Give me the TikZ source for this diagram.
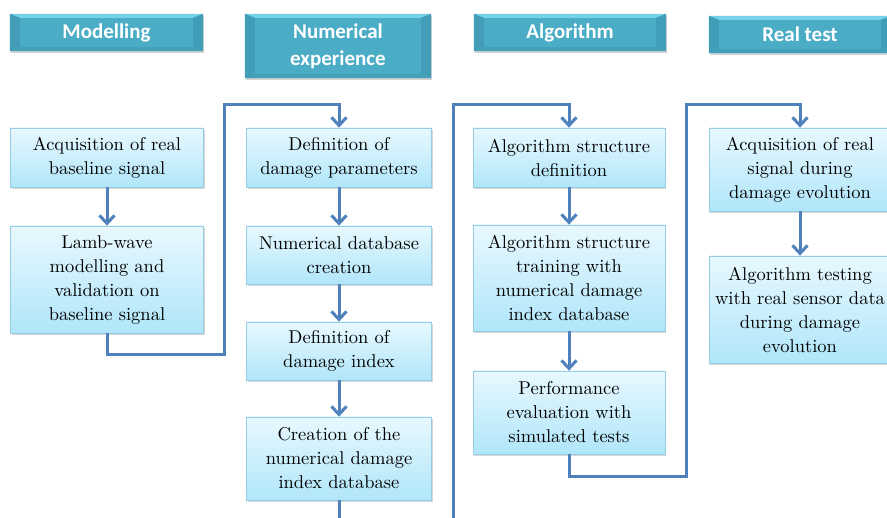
\documentclass[tikz,border=0pt]{standalone}
\usepackage{fontspec}
\newfontfamily\headfont{Carlito}
\newfontfamily\boxfont{lmroman10-regular.otf}
\usepackage{tikz}
\usetikzlibrary{arrows.meta, shadows}
\definecolor{aqua}{RGB}{75, 172, 198}
\definecolor{aqualight}{RGB}{118, 210, 232}
\definecolor{aquadark}{RGB}{66, 158, 184}
\definecolor{aquabottom}{RGB}{68, 160, 186}
\definecolor{boxtop}{RGB}{232, 248, 254}
\definecolor{boxbot}{RGB}{176, 230, 250}
\definecolor{boxline}{RGB}{150, 205, 228}
\definecolor{flow}{RGB}{79, 129, 189}

\begin{document}
\begin{tikzpicture}[
   x=1pt, y=-1pt,
   header/.style={rectangle, fill=aqua, inner sep=0, minimum height=37,
                  drop shadow={opacity=0.35, shadow xshift=1pt, shadow yshift=-2pt}},
   headtext/.style={text=white, align=center,
                    font=\headfont\bfseries\fontsize{21}{27}\selectfont},
   stage/.style={rectangle, draw=boxline, line width=0.8, top color=boxtop,
                 bottom color=boxbot, text=black, align=center,
                 font=\boxfont\fontsize{18.5}{24}\selectfont, inner sep=0,
                 drop shadow={opacity=0.3, shadow xshift=1pt, shadow yshift=-2pt}},
   link/.style={-{Straight Barb[length=8pt, width=15pt]}, color=flow,
                line width=3, line join=miter}
  ]

  \clip (0, 0) rectangle (887, 518);
  \fill[white] (0, 0) rectangle (887, 518);

  % Column headers
  \node (H1) at (106.5, 32.5) [header, minimum width=193] {};
  \node (H2) at (338, 46) [header, minimum width=186, minimum height=64] {};
  \node (H3) at (570, 32.5) [header, minimum width=192] {};
  \node (H4) at (800, 34.5) [header, minimum width=182] {};

  % Bevels
  \foreach \h in {H1, H2, H3, H4} {
    \fill[aqualight] (\h.north west) -- (\h.north east)
      -- ([shift={(-10, 4)}]\h.north east) -- ([shift={(10, 4)}]\h.north west) -- cycle;
    \fill[aquadark] (\h.north west) -- ([shift={(10, 4)}]\h.north west)
      -- ([shift={(10, -4)}]\h.south west) -- (\h.south west) -- cycle;
    \fill[aquadark] (\h.north east) -- ([shift={(-10, 4)}]\h.north east)
      -- ([shift={(-10, -4)}]\h.south east) -- (\h.south east) -- cycle;
    \fill[aquabottom] (\h.south west) -- ([shift={(10, -4)}]\h.south west)
      -- ([shift={(-10, -4)}]\h.south east) -- (\h.south east) -- cycle;
  }
  \node at (H1) [headtext] {Modelling};
  \node at (H2) [headtext] {Numerical\\experience};
  \node at (H3) [headtext] {Algorithm};
  \node at (H4) [headtext] {Real test};

  % Modelling
  \node (A1) at (107, 157.5) [stage, minimum width=193, minimum height=59]
    {Acquisition of real\\baseline signal};
  \node (A2) at (107, 279.5) [stage, minimum width=193, minimum height=107]
    {Lamb-wave\\modelling and\\validation on\\baseline signal};

  % Numerical experience
  \node (B1) at (339, 157.5) [stage, minimum width=185, minimum height=59]
    {Definition of\\damage parameters};
  \node (B2) at (339, 255) [stage, minimum width=185, minimum height=58]
    {Numerical database\\creation};
  \node (B3) at (339, 351) [stage, minimum width=185, minimum height=58]
    {Definition of\\damage index};
  \node (B4) at (339, 458.5) [stage, minimum width=185, minimum height=83]
    {Creation of the\\numerical damage\\index database};

  % Algorithm
  \node (C1) at (569, 157.5) [stage, minimum width=192, minimum height=59]
    {Algorithm structure\\definition};
  \node (C2) at (569, 278) [stage, minimum width=192, minimum height=106]
    {Algorithm structure\\training with\\numerical damage\\index database};
  \node (C3) at (569, 412.5) [stage, minimum width=192, minimum height=83]
    {Performance\\evaluation with\\simulated tests};

  % Real test
  \node (D1) at (800, 169.5) [stage, minimum width=182, minimum height=83]
    {Acquisition of real\\signal during\\damage evolution};
  \node (D2) at (800, 309.5) [stage, minimum width=182, minimum height=107]
    {Algorithm testing\\with real sensor data\\during damage\\evolution};

  \foreach \B/\E in {A1/A2, B1/B2, B2/B3, B3/B4, C1/C2, C2/C3, D1/D2} {
    \draw[link] (\B) -- (\E);
  }

  % Links between columns
  \coordinate (J1) at (224, 105);
  \coordinate (J2) at (453, 105);
  \coordinate (J3) at (686, 105);
  \draw[link] (A2.south) -- ++(0, 21) -| (J1) -| (B1.north);
  \draw[link] (B4.south) -- ++(0, 40) -| (J2) -| (C1.north);
  \draw[link] (C3.south) -- ++(0, 22) -| (J3) -| (D1.north);

\end{tikzpicture}
\end{document}
